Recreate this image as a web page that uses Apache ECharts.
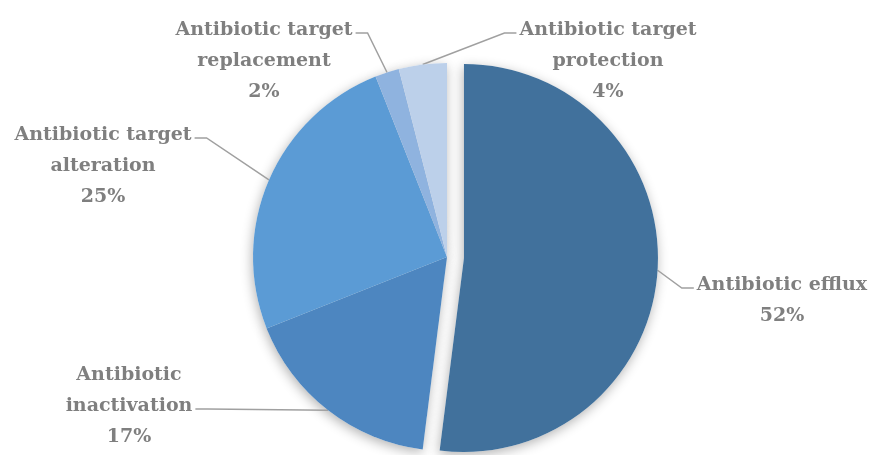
<!DOCTYPE html>
<html>
<head>
<meta charset="utf-8">
<script src="https://cdn.jsdelivr.net/npm/echarts@6/dist/echarts.min.js"></script>
<style>html,body{margin:0;padding:0;background:#fff}#c{width:875px;height:455px}</style>
</head>
<body>
<div id="c"></div>
<script>
// Data (clockwise from 12 o'clock)
var categories = [
  "Antibiotic efflux",
  "Antibiotic\ninactivation",
  "Antibiotic target\nalteration",
  "Antibiotic target\nreplacement",
  "Antibiotic target\nprotection"
];
var values = [52, 17, 25, 2, 4];
var colors = ["#41719c", "#4d86c0", "#5b9bd5", "#8fb3df", "#bcd0ea"];
var explodedIndex = 0;

// label placement (text centre x, block top y, which line the leader meets, side of attach)
var labelPlace = [
  {x: 782, y: 270, line: 0, side: "left"},
  {x: 129, y: 360, line: 1, side: "right"},
  {x: 103, y: 120, line: 0, side: "right"},
  {x: 264, y: 15, line: 0, side: "right"},
  {x: 608, y: 15, line: 0, side: "left"}
];
var LH = 31;
var CENTER = [447, 257];
var RADIUS = 194;
var OFFSET = 17;

var total = values.reduce(function (a, b) { return a + b; }, 0);
var before = 0;
for (var k = 0; k < explodedIndex; k++) before += values[k];
var midAng = (before + values[explodedIndex] / 2) / total * Math.PI * 2;
var CENTER2 = [CENTER[0] + OFFSET * Math.sin(midAng), CENTER[1] - OFFSET * Math.cos(midAng)];

var chart = echarts.init(document.getElementById('c'), null, {renderer: 'canvas'});

function labelLayout(params) {
  var pl = labelPlace[params.dataIndex];
  if (!pl || !params.labelLinePoints || !params.labelRect) return {};
  var w = params.labelRect.width;
  var p0 = params.labelLinePoints[0];
  var ay = pl.y + pl.line * LH + 18;
  var ax = pl.side === 'right' ? pl.x + w / 2 + 3 : pl.x - w / 2 - 3;
  var p1 = [pl.side === 'right' ? ax + 12 : ax - 12, ay];
  return {
    x: pl.x,
    y: pl.y,
    align: 'center',
    verticalAlign: 'top',
    labelLinePoints: [p0, p1, [ax, ay]]
  };
}

var labelStyle = {
  show: true,
  position: 'outside',
  formatter: function (p) { return p.name + '\n' + p.value + '%'; },
  color: '#7f7f7f',
  fontFamily: 'DejaVu Serif',
  fontWeight: 'bold',
  fontSize: 19,
  lineHeight: LH,
  align: 'center'
};
var lineStyle = {show: true, lineStyle: {color: '#a0a0a0', width: 1.5}};
var shadowStyle = {
  color: '#ffffff',
  shadowBlur: 12,
  shadowColor: 'rgba(0,0,0,0.30)',
  shadowOffsetX: -1,
  shadowOffsetY: 3
};

function makeData(showFn, styleFn, withLabel) {
  return categories.map(function (c, i) {
    var vis = showFn(i);
    return {
      name: c,
      value: values[i],
      itemStyle: vis ? styleFn(i) : {color: 'rgba(0,0,0,0)'},
      label: {show: withLabel && vis},
      labelLine: {show: withLabel && vis}
    };
  });
}

var base = {
  type: 'pie',
  radius: RADIUS,
  startAngle: 90,
  clockwise: true,
  avoidLabelOverlap: false,
  silent: true,
  emphasis: {disabled: true},
  itemStyle: {borderWidth: 0}
};

function series(extra) { return Object.assign({}, base, extra); }

chart.setOption({
  animation: false,
  backgroundColor: '#ffffff',
  series: [
    series({
      z: 1, center: CENTER,
      label: {show: false}, labelLine: {show: false},
      data: makeData(function (i) { return i !== explodedIndex; }, function () { return shadowStyle; }, false)
    }),
    series({
      z: 1, center: CENTER2,
      label: {show: false}, labelLine: {show: false},
      data: makeData(function (i) { return i === explodedIndex; }, function () { return shadowStyle; }, false)
    }),
    series({
      z: 2, center: CENTER,
      label: labelStyle, labelLine: lineStyle, labelLayout: labelLayout,
      data: makeData(function (i) { return i !== explodedIndex; }, function (i) { return {color: colors[i]}; }, true)
    }),
    series({
      z: 2, center: CENTER2,
      label: labelStyle, labelLine: lineStyle, labelLayout: labelLayout,
      data: makeData(function (i) { return i === explodedIndex; }, function (i) { return {color: colors[i]}; }, true)
    })
  ]
});
</script>
</body>
</html>
